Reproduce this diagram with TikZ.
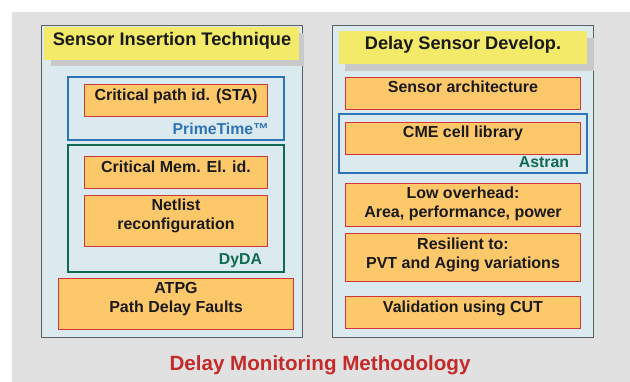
\documentclass[tikz,border=0pt]{standalone}
\usepackage{fontspec}
\setmainfont{Liberation Sans}
\usetikzlibrary{fit}
\definecolor{bggray}{HTML}{E1E1E1}
\definecolor{panelfill}{HTML}{DAEAEE}
\definecolor{paneledge}{HTML}{5A5F63}
\definecolor{titleyellow}{HTML}{F2EA68}
\definecolor{shadowgray}{HTML}{C9C9C9}
\definecolor{cellorange}{HTML}{FCC86A}
\definecolor{celledge}{HTML}{D2363A}
\definecolor{toolblue}{HTML}{2E73B8}
\definecolor{toolgreen}{HTML}{0F6A4F}
\definecolor{headred}{HTML}{C42A2A}
\definecolor{inktext}{HTML}{1A1A1A}
\tikzset{
  every node/.style={inner sep=0pt, outer sep=0pt},
  panel/.style={fill=panelfill, draw=paneledge, line width=0.9pt},
  shadowbox/.style={fill=shadowgray},
  titlebox/.style={fill=titleyellow},
  cell/.style={fill=cellorange, draw=celledge, line width=0.8pt},
  toolframe/.style={draw=#1, line width=2pt},
  headtext/.style={font=\fontsize{18.2}{20}\selectfont\bfseries, text=inktext, anchor=base},
  celltext/.style={font=\fontsize{16}{19}\selectfont\bfseries, text=inktext, anchor=base, align=center},
  tooltext/.style={font=\fontsize{15.8}{19}\selectfont\bfseries, text=#1, anchor=base east},
}
\begin{document}
\begin{tikzpicture}[x=1pt, y=-1pt]
  % canvas
  \useasboundingbox (0,0) rectangle (630,382);
  \fill[bggray] (12,12) rectangle (630,382);

  % left column: sensor insertion
  \node[panel, fit={(41,25) (302,337)}] (leftpanel) {};
  \node[shadowbox, fit={(51,33) (304,66)}] (leftshadow) {};
  \node[titlebox, fit={(44,27) (299,60)}] (lefttitle) {};
  \node[headtext] (lefthead) at (172,46) {Sensor Insertion Technique};

  \node[toolframe=toolblue, fit={(68,77) (284,140)}] (ptframe) {};
  \node[cell, fit={(84,84) (267,116)}] (stabox) {};
  \node[celltext] (statext) at (176,100.5) {Critical path id. (STA)};
  \node[tooltext=toolblue] (ptlabel) at (269,135) {PrimeTime™};

  \node[toolframe=toolgreen, fit={(68,145) (284,272)}] (dydaframe) {};
  \node[cell, fit={(84,156) (267,188)}] (membox) {};
  \node[celltext] (memtext) at (176,172.5) {Critical Mem. El. id.};
  \node[cell, fit={(84,195) (267,246)}] (netbox) {};
  % multi-line texts are placed by the baseline of their last line
  \node[celltext] (nettext) at (176,229.5) {Netlist\\reconfiguration};
  \node[tooltext=toolgreen] (dydalabel) at (262,265) {DyDA};

  \node[cell, fit={(58,278) (293,329)}] (atpgbox) {};
  \node[celltext] (atpgtext) at (176,312.5) {ATPG\\Path Delay Faults};

  % right column: delay sensor development
  \node[panel, fit={(332,25) (593,337)}] (rightpanel) {};
  \node[shadowbox, fit={(345,38) (594,71)}] (rightshadow) {};
  \node[titlebox, fit={(339,31) (587,64)}] (righttitle) {};
  \node[headtext] (righthead) at (463,50) {Delay Sensor Develop.};

  \node[cell, fit={(345,77) (580,109)}] (archbox) {};
  \node[celltext] (archtext) at (463,92.7) {Sensor architecture};

  \node[toolframe=toolblue, fit={(339,114) (587,173)}] (astranframe) {};
  \node[cell, fit={(345,122) (580,154)}] (cmebox) {};
  \node[celltext] (cmetext) at (463,137.7) {CME cell library};
  \node[tooltext=toolgreen] (astranlabel) at (569,167.7) {Astran};

  \node[cell, fit={(345,183) (580,226)}] (ovbox) {};
  \node[celltext] (ovtext) at (463,217.7) {Low overhead:\\Area, performance, power};
  \node[cell, fit={(345,233) (580,281)}] (resbox) {};
  \node[celltext] (restext) at (463,268.3) {Resilient to:\\PVT and Aging variations};
  \node[cell, fit={(345,296) (580,328)}] (valbox) {};
  \node[celltext] (valtext) at (463,312.7) {Validation using CUT};

  % caption
  \node[font=\fontsize{20.6}{24}\selectfont\bfseries, text=headred, anchor=base] (caption) at (320,370.7) {Delay Monitoring Methodology};
\end{tikzpicture}
\end{document}
